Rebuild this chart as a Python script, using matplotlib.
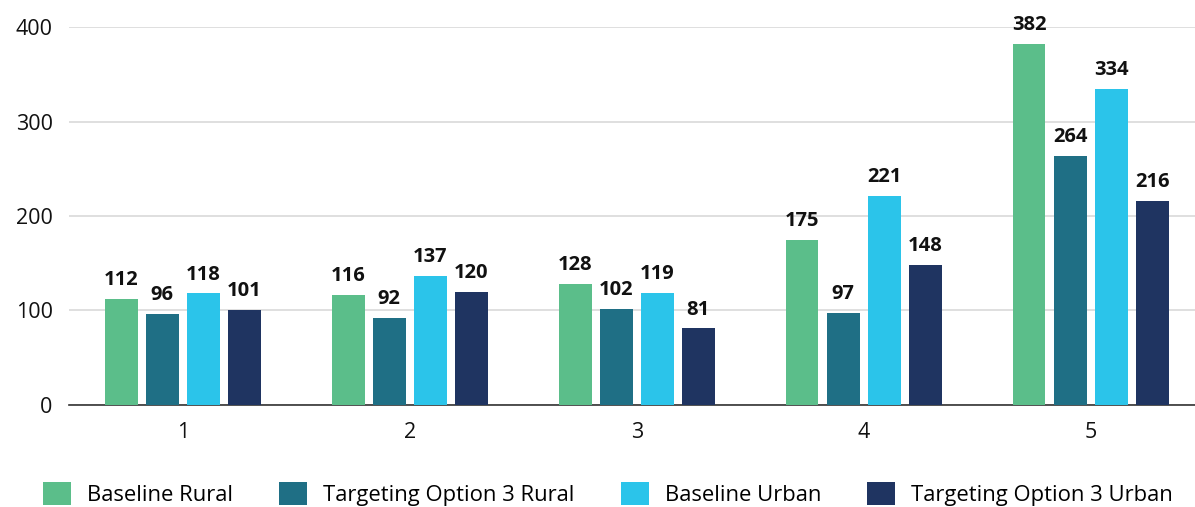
import numpy as np
import matplotlib.pyplot as plt

plt.rcParams['font.family'] = ['Open Sans', 'DejaVu Sans']

groups = ['1', '2', '3', '4', '5']
series_names = ['Baseline Rural', 'Targeting Option 3 Rural', 'Baseline Urban', 'Targeting Option 3 Urban']
baseline_rural = [112, 116, 128, 175, 382]
target_rural = [96, 92, 102, 97, 264]
baseline_urban = [118, 137, 119, 221, 334]
target_urban = [101, 120, 81, 148, 216]
colors = ['#5BBE8A', '#1F6F85', '#2BC4EA', '#1F3461']

series = [baseline_rural, target_rural, baseline_urban, target_urban]

fig = plt.figure(figsize=(11.95, 5.07), dpi=100)
ax = fig.add_axes([0.058, 0.2012, 0.942, 0.7455])

x = np.arange(len(groups))
width = 0.145
pitch = 0.181
for i, (vals, col, name) in enumerate(zip(series, colors, series_names)):
    pos = x + (i - 1.5) * pitch
    bars = ax.bar(pos, vals, width, color=col, label=name, zorder=3)
    for b, v in zip(bars, vals):
        ax.annotate(str(v), (b.get_x() + b.get_width() / 2, v), xytext=(0, 10),
                    textcoords='offset points', ha='center', va='baseline',
                    fontsize=14.5, fontweight='bold', color='#111111',
                    annotation_clip=False, zorder=4)

ax.set_xlim(-0.5, 4.46)
ax.set_ylim(0, 400)
ax.set_yticks([0, 100, 200, 300, 400])
ax.set_xticks(x)
ax.set_xticklabels(groups)
ax.yaxis.grid(True, color='#D9D9D9', linewidth=1.2, zorder=0)
ax.set_axisbelow(True)
for s in ['top', 'right', 'left']:
    ax.spines[s].set_visible(False)
ax.spines['bottom'].set_color('#333333')
ax.spines['bottom'].set_linewidth(1.2)
ax.tick_params(axis='both', length=0, labelsize=15.5, colors='#111111')
ax.tick_params(axis='y', pad=12)
ax.tick_params(axis='x', pad=12)

fig.legend(loc='center left', bbox_to_anchor=(0.036, 0.026), ncol=4, frameon=False,
           fontsize=15.8, handlelength=1.28, handleheight=1.25, handletextpad=0.73,
           columnspacing=2.1, borderpad=0, borderaxespad=0)

fig.savefig('out.png', dpi=100)
